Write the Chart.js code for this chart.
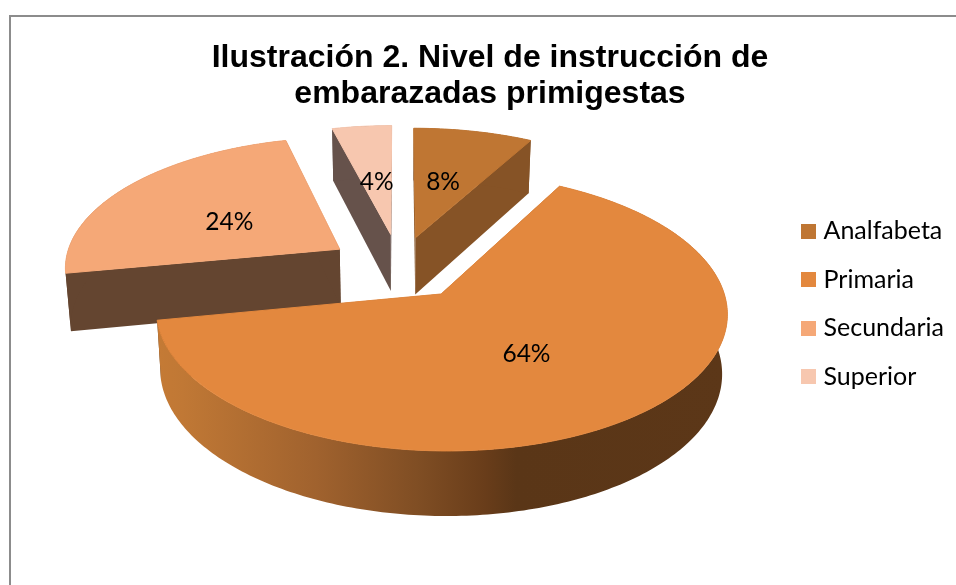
<!DOCTYPE html>
<html>
<head>
<meta charset="utf-8">
<title>Nivel de instrucción</title>
<script src="https://cdn.jsdelivr.net/npm/chart.js@4"></script>
<style>
html, body { margin: 0; padding: 0; background: #fff; overflow: hidden; width: 956px; height: 585px; }
#frame { position: absolute; left: 9px; top: 15px; width: 1100px; height: 800px; border: 2px solid #8c8c8c; box-sizing: border-box; }
#wrap { position: absolute; left: 0; top: 0; width: 956px; height: 585px; }
</style>
</head>
<body>
<div id="frame"></div>
<div id="wrap"><canvas id="pie" width="956" height="585"></canvas></div>
<script>
var categories = ['Analfabeta', 'Primaria', 'Secundaria', 'Superior'];
var values = [8, 64, 24, 4];
var titleLines = ['Ilustración 2. Nivel de instrucción de', 'embarazadas primigestas'];

var topColours = ['#BF7633', '#E3883E', '#F5A877', '#F7C7AF'];
var wallColours = ['#865326', '#5C3718', '#644530', '#66524B'];
var explode = [66, 69, 72, 72];
var labelFraction = [0.49, 0.5, 0.48, 0.455];
var labelTurn = [-0.02, 0.04, -0.08, 0];
var drawOrder = [0, 3, 2, 1];

// projection of the pie plane, with a little perspective like the 3D pie in Excel
var view = { cx: 399.5, cy: 267, radius: 276, squash: 0.471, persp: 0.125, depth: 57.8, shrink: 0.016 };

function project(px, py, z) {
    var s = 1 / (1 - view.persp * py / view.radius);
    var f = s * (1 - view.shrink * z);
    return {
        x: view.cx + px * f,
        y: view.cy + py * view.squash * f + z * view.depth * s
    };
}

function arcPoints(arc, shift, z) {
    var pts = [];
    var steps = Math.ceil((arc.endAngle - arc.startAngle) * 60);
    for (var i = 0; i <= steps; i++) {
        var a = arc.startAngle + (arc.endAngle - arc.startAngle) * i / steps;
        pts.push(project(shift.x + Math.cos(a) * view.radius, shift.y + Math.sin(a) * view.radius, z));
    }
    return pts;
}

function fillPoly(ctx, pts, fill, edge) {
    ctx.beginPath();
    ctx.moveTo(pts[0].x, pts[0].y);
    for (var i = 1; i < pts.length; i++) {
        ctx.lineTo(pts[i].x, pts[i].y);
    }
    ctx.closePath();
    ctx.fillStyle = fill;
    ctx.fill();
    if (edge) {
        // hides the fringe of the far walls under the top face
        ctx.strokeStyle = fill;
        ctx.lineWidth = 1;
        ctx.stroke();
    }
}

function shiftOf(arc, i) {
    var mid = (arc.startAngle + arc.endAngle) / 2;
    return { x: Math.cos(mid) * explode[i], y: Math.sin(mid) * explode[i] };
}

function rimFill(ctx, i) {
    if (i !== 1) {
        return wallColours[i];
    }
    var g = ctx.createLinearGradient(160, 0, 730, 0);
    g.addColorStop(0, '#C47A35');
    g.addColorStop(0.04, '#C07835');
    g.addColorStop(0.275, '#A0622E');
    g.addColorStop(0.45, '#804E24');
    g.addColorStop(0.57, '#693D1A');
    g.addColorStop(0.625, '#5A3617');
    g.addColorStop(1, '#5C3718');
    return g;
}

// legend swatch as a small canvas, so the gap to the text can be narrow
function swatch(colour) {
    var c = document.createElement('canvas');
    c.width = 15;
    c.height = 15;
    var g = c.getContext('2d');
    g.fillStyle = colour;
    g.fillRect(0, 0, 15, 15);
    return c;
}

const pie3d = {
    id: 'pie3d',
    beforeDatasetDraw(chart, args) {
        var ctx = chart.ctx;
        var arcs = args.meta.data;
        ctx.save();
        drawOrder.forEach(function (i) {
            var arc = arcs[i];
            var shift = shiftOf(arc, i);
            var top = arcPoints(arc, shift, 0);
            var bottom = arcPoints(arc, shift, 1);
            var apexTop = project(shift.x, shift.y, 0);
            var apexBottom = project(shift.x, shift.y, 1);
            // the two cut walls, the far ones end up under the top face
            fillPoly(ctx, [apexTop, top[0], bottom[0], apexBottom], wallColours[i]);
            fillPoly(ctx, [apexTop, top[top.length - 1], bottom[bottom.length - 1], apexBottom], wallColours[i]);
            fillPoly(ctx, top.concat(bottom.slice().reverse()), rimFill(ctx, i));
            fillPoly(ctx, [apexTop].concat(top), topColours[i], true);
        });
        ctx.restore();
        return false;
    },
    afterDatasetsDraw(chart) {
        var ctx = chart.ctx;
        var arcs = chart.getDatasetMeta(0).data;
        var total = values.reduce(function (a, b) { return a + b; }, 0);
        ctx.save();
        ctx.font = '24.5px Lato';
        ctx.fillStyle = '#000';
        ctx.textAlign = 'center';
        ctx.textBaseline = 'middle';
        arcs.forEach(function (arc, i) {
            var mid = (arc.startAngle + arc.endAngle) / 2 + labelTurn[i];
            var shift = shiftOf(arc, i);
            var r = view.radius * labelFraction[i];
            var p = project(shift.x + Math.cos(mid) * r, shift.y + Math.sin(mid) * r, 0);
            ctx.fillText(Math.round(values[i] / total * 100) + '%', p.x, p.y);
        });
        ctx.restore();
    }
};

const config = {
    type: 'pie',
    data: {
        labels: categories,
        datasets: [{
            data: values,
            backgroundColor: topColours,
            borderWidth: 0
        }]
    },
    plugins: [pie3d],
    options: {
        animation: false,
        responsive: false,
        events: [],
        layout: { padding: { left: 26, right: 2, top: 23, bottom: 0 } },
        plugins: {
            tooltip: { enabled: false },
            title: {
                display: true,
                text: titleLines,
                color: '#000',
                font: { family: '"Liberation Sans"', size: 32, weight: 'bold', lineHeight: 1.125 },
                padding: { top: 17, bottom: 12 }
            },
            legend: {
                position: 'right',
                labels: {
                    usePointStyle: true,
                    pointStyleWidth: 5,
                    boxHeight: 15,
                    padding: 23.5,
                    color: '#000',
                    font: { family: 'Lato', size: 25 },
                    generateLabels(chart) {
                        return Chart.overrides.pie.plugins.legend.labels.generateLabels(chart).map(function (item, i) {
                            item.pointStyle = swatch(topColours[i]);
                            return item;
                        });
                    }
                }
            }
        }
    }
};

new Chart(document.getElementById('pie'), config);
</script>
</body>
</html>
